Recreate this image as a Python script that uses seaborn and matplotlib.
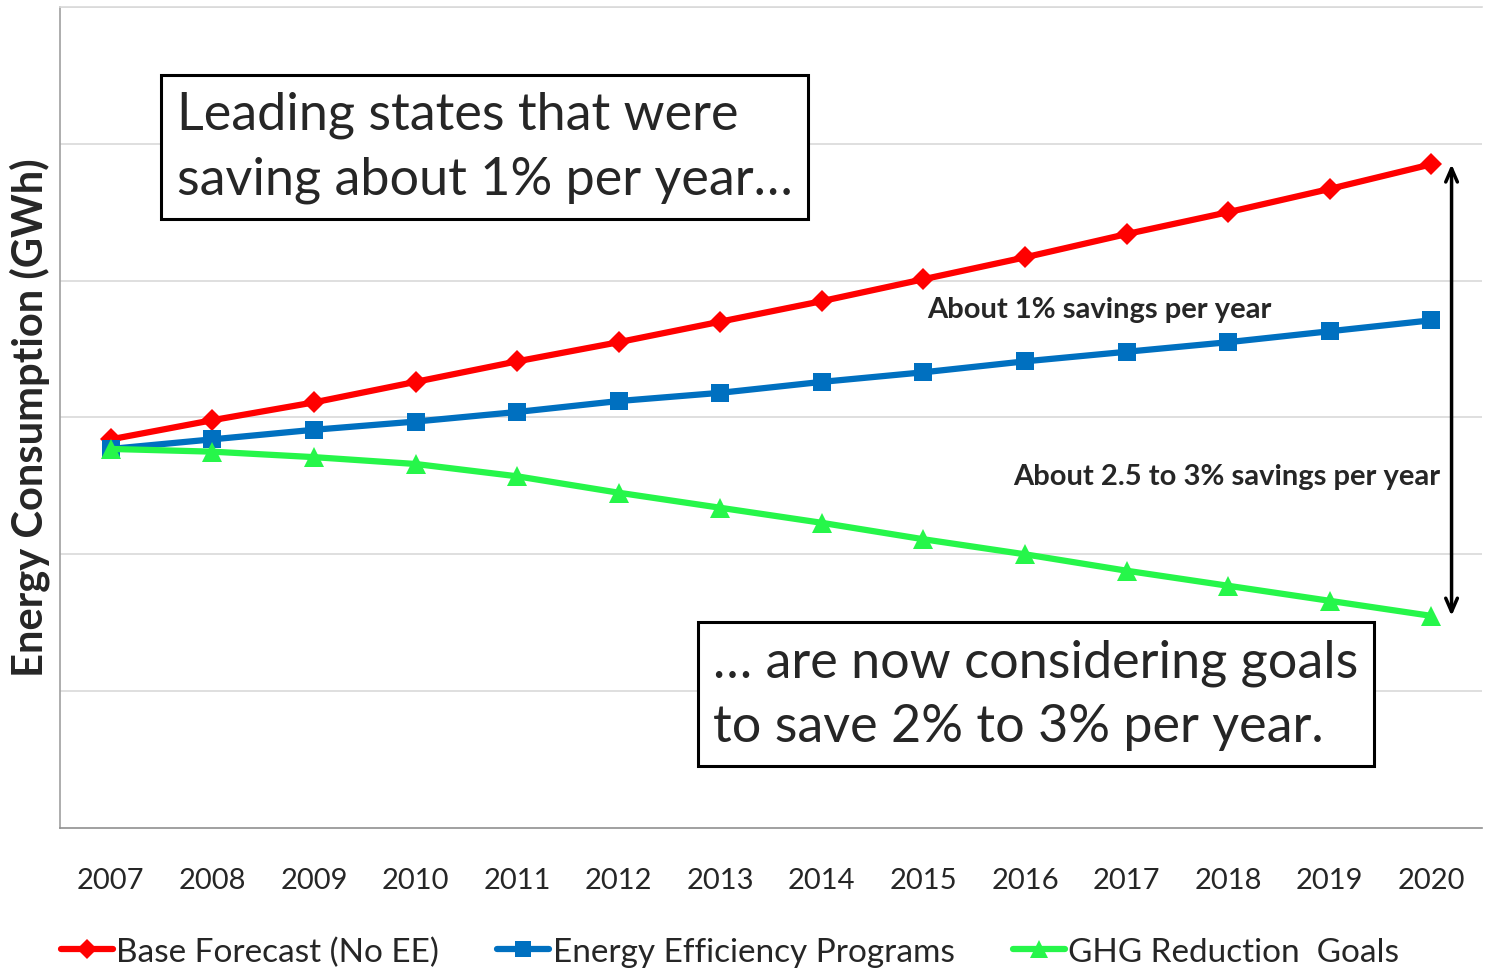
import matplotlib
matplotlib.use("Agg")
import matplotlib.pyplot as plt
import seaborn as sns
import pandas as pd

years = [2007, 2008, 2009, 2010, 2011, 2012, 2013, 2014, 2015, 2016, 2017, 2018, 2019, 2020]
base_forecast = [2.84, 2.98, 3.11, 3.26, 3.41, 3.55, 3.70, 3.85, 4.01, 4.17, 4.34, 4.50, 4.67, 4.85]
ee_programs = [2.77, 2.84, 2.91, 2.97, 3.04, 3.12, 3.18, 3.26, 3.33, 3.41, 3.48, 3.55, 3.63, 3.71]
ghg_goals = [2.77, 2.75, 2.71, 2.66, 2.57, 2.45, 2.34, 2.23, 2.11, 2.00, 1.88, 1.77, 1.66, 1.55]
series_names = ["Base Forecast (No EE)", "Energy Efficiency Programs", "GHG Reduction  Goals"]

sns.set_theme(style="white")
plt.rcParams['font.family'] = ['Lato', 'DejaVu Sans']

fig = plt.figure(figsize=(14.85, 9.70), dpi=100)
ax = fig.add_axes([0.0404, 0.1454, 0.9576, 0.8464])

colors = ["#FF0000", "#0070C0", "#26F64A"]
markers = ["D", "s", "^"]
msizes = [11, 13, 14]
for vals, name, c, m, ms in zip([base_forecast, ee_programs, ghg_goals], series_names, colors, markers, msizes):
    df = pd.DataFrame({"year": years, "value": vals})
    sns.lineplot(data=df, x="year", y="value", ax=ax, color=c, lw=4.5,
                 marker=m, markersize=ms, markeredgewidth=0, label=name)

ax.set_xlim(2006.5, 2020.5)
ax.set_ylim(0, 6)
ax.set_xticks(years)
ax.set_xticklabels([str(y) for y in years], fontsize=21)
ax.set_yticks([1, 2, 3, 4, 5, 6])
ax.set_yticklabels([])
ax.tick_params(axis='x', length=0, pad=28)
ax.tick_params(axis='y', length=0)
ax.grid(axis='y', color="#d9d9d9", lw=1.2)
ax.set_xlabel("")
ax.set_ylabel("Energy Consumption (GWh)", fontsize=30, fontweight='bold')
ax.yaxis.set_label_coords(-0.007, 0.5006)
ax.spines["right"].set_visible(False)
ax.spines["top"].set_color("#d9d9d9")
ax.spines["left"].set_color("#a0a0a0")
ax.spines["bottom"].set_color("#909090")
for s in ["left", "bottom", "top"]:
    ax.spines[s].set_linewidth(1.2)

# text boxes
ax.text(0.082, 0.8295, "Leading states that were\nsaving about 1% per year\u2026",
        transform=ax.transAxes, fontsize=37.5, va='center', ha='left', linespacing=1.45,
        bbox=dict(boxstyle="square,pad=0.3", fc="white", ec="black", lw=2.2))
ax.text(0.4595, 0.163, "\u2026 are now considering goals\nto save 2% to 3% per year.",
        transform=ax.transAxes, fontsize=37.5, va='center', ha='left', linespacing=1.45,
        bbox=dict(boxstyle="square,pad=0.3", fc="white", ec="black", lw=2.2))

ax.text(0.6097, 0.632, "About 1% savings per year", transform=ax.transAxes,
        fontsize=21, fontweight='bold', ha='left', va='center')
ax.text(0.9705, 0.4287, "About 2.5 to 3% savings per year", transform=ax.transAxes,
        fontsize=21, fontweight='bold', ha='right', va='center')

ax.annotate("", xy=(2020.2, base_forecast[-1]), xytext=(2020.2, ghg_goals[-1]),
            arrowprops=dict(arrowstyle="<->,head_length=0.8,head_width=0.35", color="black", lw=2.5,
                            shrinkA=0, shrinkB=0))

ax.legend_.remove()
handles, labels = ax.get_legend_handles_labels()
fig.legend(handles, labels, loc='center', bbox_to_anchor=(0.4916, 0.018), ncol=3, frameon=False,
           fontsize=24, handlelength=1.56, handletextpad=0.1, columnspacing=1.74, markerscale=0.9)

fig.savefig("out.png", dpi=100)
